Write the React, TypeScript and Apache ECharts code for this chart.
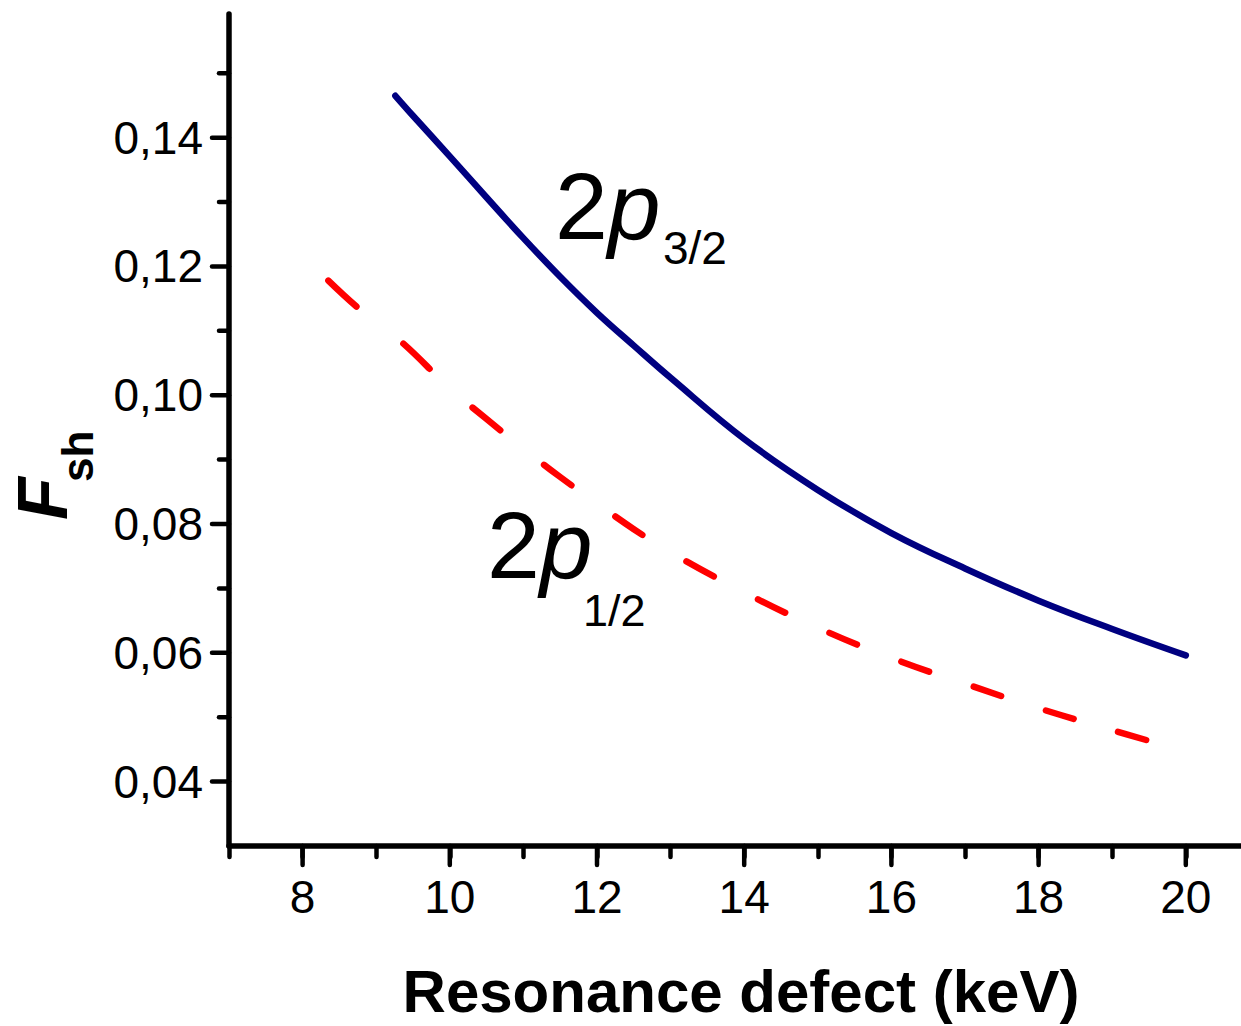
import React, { useEffect, useRef } from "react";
import * as echarts from "echarts";

// ---- data ----
const blueX = [9.26, 9.5, 10, 10.5, 11, 11.5, 12, 12.5, 13, 14, 15, 16, 17, 18, 19, 20];
const blueY = [0.1465, 0.1434, 0.1371, 0.1307, 0.1244, 0.1184, 0.1128, 0.1077, 0.1027, 0.0932, 0.0853, 0.0786, 0.0731, 0.0681, 0.0637, 0.0596];

const redX = [8.35, 8.8, 9.34, 10, 10.5, 11, 11.5, 12, 12.5, 13, 14, 15, 16, 17, 18, 19, 19.57];
const redY = [0.1178, 0.1131, 0.1083, 0.1011, 0.0963, 0.0917, 0.0873, 0.0832, 0.0792, 0.0756, 0.0694, 0.0639, 0.0592, 0.0552, 0.0514, 0.048, 0.0461];

const xMajorTicks = [8, 10, 12, 14, 16, 18, 20];
const yMajorTicks = [0.04, 0.06, 0.08, 0.1, 0.12, 0.14];
const yMinorTicks = [0.05, 0.07, 0.09, 0.11, 0.13, 0.15];

const X_MIN = 7;
const X_MAX = 20.75;
const Y_MIN = 0.03;
const Y_MAX = 0.1592;

const FONT = "'Liberation Sans', Arial, sans-serif";

// dash pattern of the red curve (style)
const redDash = [38, 60, 36.5, 58, 35.5, 56, 34, 54, 32.5, 51.5, 31.5, 49.5, 30.5, 48.5, 30, 47.5, 29.5, 47, 29, 47, 29, 46.5, 29, 1000];

function tickSeries(items: number[][], dir: "x" | "y") {
  return {
    type: "custom",
    silent: true,
    clip: false,
    z: 5,
    encode: { x: 0, y: 1 },
    data: items,
    renderItem: (params: any, api: any) => {
      const p = api.coord([api.value(0), api.value(1)]);
      const len = api.value(2);
      const shape =
        dir === "x"
          ? { x1: p[0], y1: p[1], x2: p[0], y2: p[1] + len }
          : { x1: p[0] - len, y1: p[1], x2: p[0], y2: p[1] };
      return {
        type: "line",
        shape,
        style: { stroke: "#000", lineWidth: 4.5, lineCap: "round" },
      };
    },
  };
}

export default function App() {
  const ref = useRef<HTMLDivElement>(null);

  useEffect(() => {
    if (!ref.current) return;
    const chart = echarts.init(ref.current, null, { renderer: "svg" });

    const yFmt = (v: number) => {
      const h = v * 100;
      const r = Math.round(h);
      if (Math.abs(h - r) > 1e-6 || r % 2 !== 0) return "";
      return v.toFixed(2).replace(".", ",");
    };
    const xFmt = (v: number) => {
      const r = Math.round(v);
      if (Math.abs(v - r) > 1e-6 || r % 2 !== 0) return "";
      return String(r);
    };

    const textStyleBase = {
      fill: "#000",
      align: "left",
      textAlign: "left",
      verticalAlign: "middle",
      textVerticalAlign: "middle",
    };

    chart.setOption({
      animation: false,
      backgroundColor: "#fff",
      textStyle: { fontFamily: FONT },
      grid: { left: 229, right: 0, top: 14, bottom: 180, containLabel: false },
      xAxis: {
        type: "value",
        min: X_MIN,
        max: X_MAX,
        interval: 1,
        name: "Resonance defect (keV)",
        nameLocation: "middle",
        nameGap: 115,
        nameTextStyle: {
          fontSize: 60,
          fontWeight: "bold",
          color: "#000",
          fontFamily: FONT,
          padding: [0, 0, 0, 12],
        },
        axisLine: { show: true, onZero: false, lineStyle: { color: "#000", width: 5.5, cap: "round" } },
        axisTick: { show: true, inside: false, length: 11, lineStyle: { color: "#000", width: 4.5, cap: "round" } },
        axisLabel: { show: true, margin: 28, fontSize: 46, color: "#000", fontFamily: FONT, formatter: xFmt, showMaxLabel: false },
        splitLine: { show: false },
      },
      yAxis: {
        type: "value",
        min: Y_MIN,
        max: Y_MAX,
        interval: 0.01,
        axisLine: { show: true, onZero: false, lineStyle: { color: "#000", width: 5.5, cap: "round" } },
        axisTick: { show: false },
        axisLabel: { show: true, margin: 26, fontSize: 46, color: "#000", fontFamily: FONT, formatter: yFmt, showMaxLabel: false },
        splitLine: { show: false },
      },
      graphic: [
        {
          type: "group",
          x: 43,
          y: 520,
          rotation: Math.PI / 2,
          children: [
            {
              type: "text",
              x: 0,
              y: 0,
              style: { ...textStyleBase, text: "F", fontSize: 70, fontWeight: "bold", fontStyle: "italic", fontFamily: FONT },
            },
            {
              type: "text",
              x: 38,
              y: 34,
              style: { ...textStyleBase, text: "sh", fontSize: 44, fontWeight: "bold", fontFamily: FONT },
            },
          ],
        },
        {
          type: "text",
          x: 555,
          y: 206,
          style: {
            ...textStyleBase,
            text: "{a|2}{b|p}",
            rich: {
              a: { fontSize: 95, fontFamily: FONT, fill: "#000" },
              b: { fontSize: 95, fontFamily: FONT, fontStyle: "italic", fill: "#000" },
            },
          },
        },
        {
          type: "text",
          x: 663,
          y: 248,
          style: { ...textStyleBase, text: "3/2", fontSize: 46, fontFamily: FONT },
        },
        {
          type: "text",
          x: 487,
          y: 545,
          style: {
            ...textStyleBase,
            text: "{a|2}{b|p}",
            rich: {
              a: { fontSize: 95, fontFamily: FONT, fill: "#000" },
              b: { fontSize: 95, fontFamily: FONT, fontStyle: "italic", fill: "#000" },
            },
          },
        },
        {
          type: "text",
          x: 583,
          y: 610,
          style: { ...textStyleBase, text: "1/2", fontSize: 45, fontFamily: FONT },
        },
      ],
      series: [
        {
          name: "2p3/2",
          type: "line",
          smooth: 0.4,
          showSymbol: false,
          symbol: "none",
          data: blueX.map((x, i) => [x, blueY[i]]),
          lineStyle: { color: "#000080", width: 6.5, cap: "round", join: "round" },
          z: 3,
        },
        {
          name: "2p1/2",
          type: "line",
          smooth: 0.4,
          showSymbol: false,
          symbol: "none",
          data: redX.map((x, i) => [x, redY[i]]),
          lineStyle: { color: "#ff0000", width: 6.5, type: redDash, cap: "round", join: "round" },
          z: 3,
        },
        tickSeries(xMajorTicks.map((v) => [v, Y_MIN, 19]), "x"),
        tickSeries(
          [...yMajorTicks.map((v) => [X_MIN, v, 17]), ...yMinorTicks.map((v) => [X_MIN, v, 10])],
          "y"
        ),
      ],
    });

    return () => chart.dispose();
  }, []);

  return (
    <div
      ref={ref}
      style={{ position: "absolute", left: 0, top: 0, width: 1241, height: 1026, background: "#fff" }}
    />
  );
}
